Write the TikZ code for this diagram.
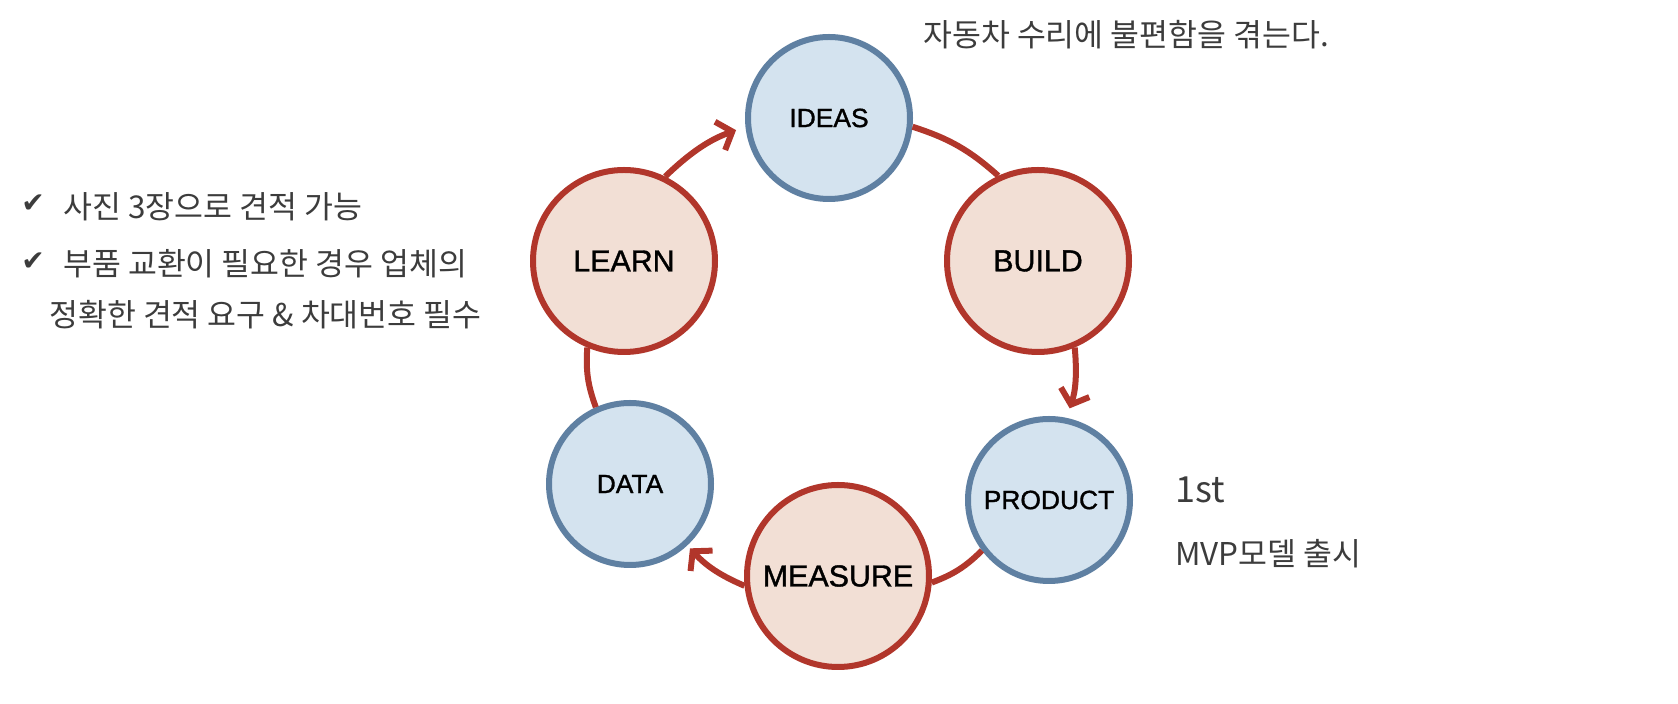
\documentclass[tikz,border=0pt]{standalone}
\usepackage{fontspec}
\setmainfont{Noto Sans CJK KR}
\newfontfamily\labelfont[FakeBold=1.2]{Liberation Sans}
\newfontfamily\symfont{DejaVu Sans}
\usetikzlibrary{arrows.meta}
\definecolor{bluefill}{HTML}{D4E3EF}
\definecolor{bluedraw}{HTML}{5F80A2}
\definecolor{redfill}{HTML}{F2DFD5}
\definecolor{reddraw}{HTML}{B1362B}
\definecolor{txt}{HTML}{3C3C3C}
\begin{document}
\begin{tikzpicture}[x=0.5pt,y=0.5pt,
 smallnode/.style={circle,draw=bluedraw,fill=bluefill,line width=3pt,minimum size=81pt,inner sep=0pt,font=\labelfont\fontsize{13.2}{15}\selectfont},
 bignode/.style={circle,draw=reddraw,fill=redfill,line width=3pt,minimum size=91pt,inner sep=0pt,font=\labelfont\fontsize{15.2}{18}\selectfont},
 link/.style={draw=reddraw,line width=3pt,bend left=12},
 arrowlink/.style={link,-{Straight Barb[length=6.5pt,width=15pt]},shorten >=5pt},
 note/.style={anchor=base west,inner sep=0pt,text=txt,font=\fontsize{15.7}{18}\selectfont},
 check/.style={anchor=base west,inner sep=0pt,text=txt,font=\symfont\fontsize{14}{16}\selectfont}]
\useasboundingbox (0,0) rectangle (1678,-704);

\node[smallnode] (ideas) at (829,-118) {IDEAS};
\node[bignode] (build) at (1038,-261) {BUILD};
\node[smallnode] (product) at (1049,-500) {PRODUCT};
\node[bignode] (measure) at (838,-576) {MEASURE};
\node[smallnode] (data) at (630,-484) {DATA};
\node[bignode] (learn) at (624,-261) {LEARN};

\draw[arrowlink] (learn.64) to (ideas.186);
\draw[link] (ideas.354) to (build.115);
\draw[arrowlink] (build.293) to (product.78);
\draw[link] (product.217) to (measure.356);
\draw[arrowlink,shorten >=2pt] (measure.186) to (data.313);
\draw[link] (data.114) to (learn.247);

\node[note] (title) at (923,-47) {자동차 수리에 불편함을 겪는다.};
\node[check] (c1) at (21,-213) {✔};
\node[note] (l1) at (63,-219) {사진 3장으로 견적 가능};
\node[check] (c2) at (21,-271) {✔};
\node[note] (l2) at (63,-276) {부품 교환이 필요한 경우 업체의};
\node[note] (l3) at (49,-327) {정확한 견적 요구 \& 차대번호 필수};
\node[note,font=\fontsize{18}{20}\selectfont] (first) at (1175,-503) {1st};
\node[note] (mvp) at (1175,-566) {MVP모델 출시};
\end{tikzpicture}
\end{document}
